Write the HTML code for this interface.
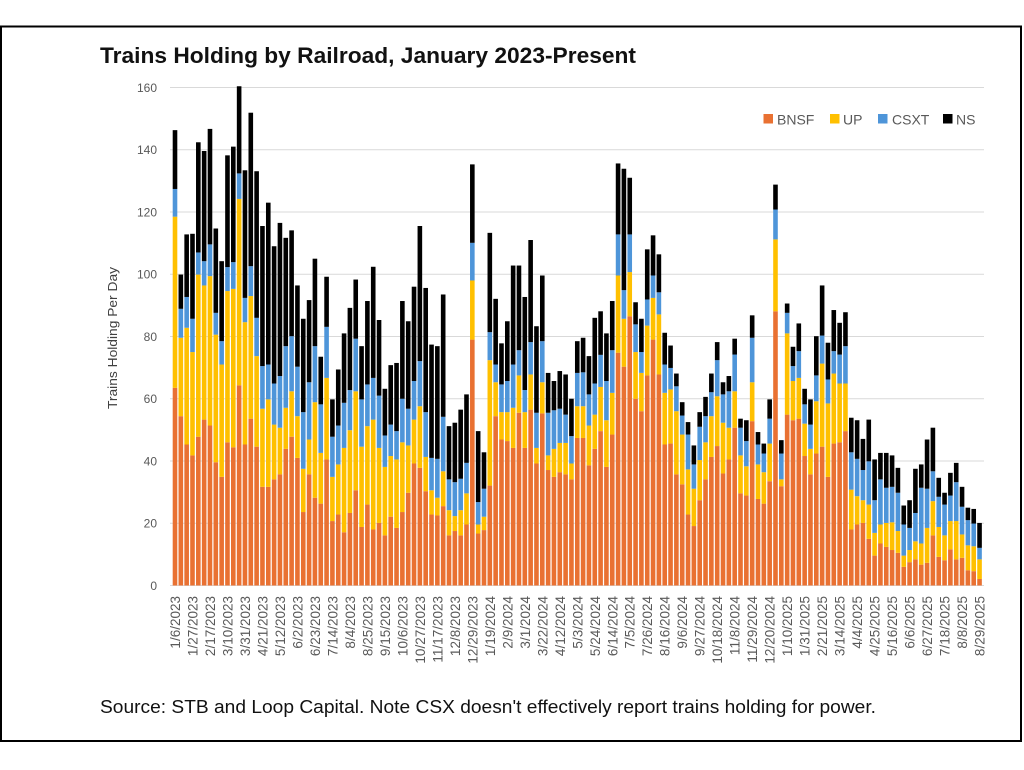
<!DOCTYPE html>
<html>
<head>
<meta charset="utf-8">
<style>
html,body{margin:0;padding:0;background:#fff;}
svg{display:block;}
.xl{font-family:"Liberation Sans",sans-serif;font-size:13.5px;fill:#595959;}
.yl{font-family:"Liberation Sans",sans-serif;font-size:12px;fill:#595959;}
.lg{font-family:"Liberation Sans",sans-serif;font-size:14px;fill:#595959;}
</style>
</head>
<body>
<svg id="chart" width="1024" height="770" viewBox="0 0 1024 770" xmlns="http://www.w3.org/2000/svg">
<rect x="0" y="0" width="1024" height="770" fill="#fff"/>
<rect x="1" y="26.5" width="1020" height="714.5" fill="none" stroke="#000" stroke-width="2"/>
<text x="100" y="63" font-family="Liberation Sans, sans-serif" font-weight="bold" font-size="22" fill="#111" textLength="536" lengthAdjust="spacingAndGlyphs">Trains Holding by Railroad, January 2023-Present</text>
<g stroke="#d9d9d9" stroke-width="1">
<line x1="170" x2="984" y1="87.5" y2="87.5"/>
<line x1="170" x2="984" y1="149.75" y2="149.75"/>
<line x1="170" x2="984" y1="212" y2="212"/>
<line x1="170" x2="984" y1="274.25" y2="274.25"/>
<line x1="170" x2="984" y1="336.5" y2="336.5"/>
<line x1="170" x2="984" y1="398.75" y2="398.75"/>
<line x1="170" x2="984" y1="461" y2="461"/>
<line x1="170" x2="984" y1="523.25" y2="523.25"/>
<line x1="170" x2="984" y1="585.5" y2="585.5"/>
</g>
<g class="yl" text-anchor="end">
<text x="157" y="92">160</text>
<text x="157" y="154">140</text>
<text x="157" y="216.5">120</text>
<text x="157" y="278.5">100</text>
<text x="157" y="341">80</text>
<text x="157" y="403">60</text>
<text x="157" y="465.5">40</text>
<text x="157" y="527.5">20</text>
<text x="157" y="590">0</text>
</g>
<text transform="translate(117,338) rotate(-90)" text-anchor="middle" font-family="Liberation Sans, sans-serif" font-size="13" fill="#404040" textLength="142" lengthAdjust="spacingAndGlyphs">Trains Holding Per Day</text>
<g id="bars"></g>
<g class="lg">
<rect x="763.5" y="114" width="9.5" height="9.5" fill="#E97132"/><text x="777" y="124.5">BNSF</text>
<rect x="830" y="114" width="9.5" height="9.5" fill="#FFC000"/><text x="843" y="124.5">UP</text>
<rect x="878" y="114" width="9.5" height="9.5" fill="#4E95D9"/><text x="892" y="124.5">CSXT</text>
<rect x="943" y="114" width="9.5" height="9.5" fill="#000"/><text x="956" y="124.5">NS</text>
</g>
<g class="xl" text-anchor="end">
<text transform="translate(180,596) rotate(-90)">1/6/2023</text>
<text transform="translate(197.5,596) rotate(-90)">1/27/2023</text>
<text transform="translate(215,596) rotate(-90)">2/17/2023</text>
<text transform="translate(232.5,596) rotate(-90)">3/10/2023</text>
<text transform="translate(250,596) rotate(-90)">3/31/2023</text>
<text transform="translate(267.4,596) rotate(-90)">4/21/2023</text>
<text transform="translate(284.9,596) rotate(-90)">5/12/2023</text>
<text transform="translate(302.4,596) rotate(-90)">6/2/2023</text>
<text transform="translate(319.9,596) rotate(-90)">6/23/2023</text>
<text transform="translate(337.4,596) rotate(-90)">7/14/2023</text>
<text transform="translate(354.9,596) rotate(-90)">8/4/2023</text>
<text transform="translate(372.4,596) rotate(-90)">8/25/2023</text>
<text transform="translate(389.9,596) rotate(-90)">9/15/2023</text>
<text transform="translate(407.4,596) rotate(-90)">10/6/2023</text>
<text transform="translate(424.9,596) rotate(-90)">10/27/2023</text>
<text transform="translate(442.4,596) rotate(-90)">11/17/2023</text>
<text transform="translate(459.8,596) rotate(-90)">12/8/2023</text>
<text transform="translate(477.3,596) rotate(-90)">12/29/2023</text>
<text transform="translate(494.8,596) rotate(-90)">1/19/2024</text>
<text transform="translate(512.3,596) rotate(-90)">2/9/2024</text>
<text transform="translate(529.8,596) rotate(-90)">3/1/2024</text>
<text transform="translate(547.3,596) rotate(-90)">3/22/2024</text>
<text transform="translate(564.8,596) rotate(-90)">4/12/2024</text>
<text transform="translate(582.3,596) rotate(-90)">5/3/2024</text>
<text transform="translate(599.8,596) rotate(-90)">5/24/2024</text>
<text transform="translate(617.3,596) rotate(-90)">6/14/2024</text>
<text transform="translate(634.7,596) rotate(-90)">7/5/2024</text>
<text transform="translate(652.2,596) rotate(-90)">7/26/2024</text>
<text transform="translate(669.7,596) rotate(-90)">8/16/2024</text>
<text transform="translate(687.2,596) rotate(-90)">9/6/2024</text>
<text transform="translate(704.7,596) rotate(-90)">9/27/2024</text>
<text transform="translate(722.2,596) rotate(-90)">10/18/2024</text>
<text transform="translate(739.7,596) rotate(-90)">11/8/2024</text>
<text transform="translate(757.2,596) rotate(-90)">11/29/2024</text>
<text transform="translate(774.7,596) rotate(-90)">12/20/2024</text>
<text transform="translate(792.2,596) rotate(-90)">1/10/2025</text>
<text transform="translate(809.6,596) rotate(-90)">1/31/2025</text>
<text transform="translate(827.1,596) rotate(-90)">2/21/2025</text>
<text transform="translate(844.6,596) rotate(-90)">3/14/2025</text>
<text transform="translate(862.1,596) rotate(-90)">4/4/2025</text>
<text transform="translate(879.6,596) rotate(-90)">4/25/2025</text>
<text transform="translate(897.1,596) rotate(-90)">5/16/2025</text>
<text transform="translate(914.6,596) rotate(-90)">6/6/2025</text>
<text transform="translate(932.1,596) rotate(-90)">6/27/2025</text>
<text transform="translate(949.6,596) rotate(-90)">7/18/2025</text>
<text transform="translate(967,596) rotate(-90)">8/8/2025</text>
<text transform="translate(984.5,596) rotate(-90)">8/29/2025</text>
</g>
<text x="100" y="713" font-family="Liberation Sans, sans-serif" font-size="18" fill="#111" textLength="776" lengthAdjust="spacingAndGlyphs">Source: STB and Loop Capital. Note CSX doesn't effectively report trains holding for power.</text>
</svg>
<script>
(function(){
var D=[[63.5,118.5,127.4,146.3],[54.4,79.6,88.9,99.9],[45.3,82.8,92.7,112.8],[41.8,75,85.7,113],[47.8,99.9,107,142.4],[53.3,96.4,104.2,139.6],[51.4,99.4,109.6,146.7],[39.6,80.6,87.6,114.7],[34.9,71,78.5,104.2],[46,94.6,102.3,138.2],
[44.4,95.3,103.9,141],[64.3,124.2,132.4,160.4],[45.3,84.6,92.4,133.4],[53.6,93,102.6,151.9],[44.6,73.7,86,133.1],[31.7,56.8,70.5,115.5],[31.7,59.8,71,123],[34.1,51.7,64.9,109],[35.7,50.7,67.3,116.5],[43.9,57.1,76.9,111.7],
[47.8,62.4,80.1,114.1],[41,54.4,70.3,96.4],[23.6,37.5,55.7,85.7],[35.7,46.9,65.3,91.7],[28.2,58.9,76.9,105],[26.3,42.6,58.2,73.5],[40.5,66.7,83.1,99.2],[20.7,34.9,47.8,59.8],[22.8,38.9,51.4,69.4],[17.1,44.2,58.7,81],
[23.3,49.9,62.8,89.2],[30.6,62.4,79.3,98.3],[18.8,44.6,59.8,76.9],[26,51.2,64.6,91.4],[18,53.3,66.7,102.4],[20.1,44.2,61,85.3],[16.1,38.1,48.2,63.2],[22.1,41.6,51.7,70.8],[18.5,40.5,49.6,71.5],[23.6,46,60,91.4],
[29.8,45,56.8,84.9],[39.2,53.3,65.7,96],[37.8,57.6,72.1,115.5],[30.3,41.3,55.7,95.6],[22.8,30.6,41,77.4],[22.5,28.2,40.7,76.9],[25.5,36.7,54.2,93.5],[16.1,24.2,34.1,51.2],[17.5,22.3,33.2,52.3],[16.1,24.2,34.3,56.5],
[19.6,29.6,39.4,61.4],[79,98,110.1,135.3],[16.7,19.6,26.8,49.6],[17.8,22.1,31.1,42.8],[32.1,72.4,81.4,113.3],[54.4,65.3,71,92.1],[46.9,55.7,64.6,77.8],[46.4,55.7,65.7,84.9],[44.2,57.1,71,102.8],[55.5,67.5,75.6,102.8],
[44.2,55.7,62.8,92.7],[56.5,67.8,78.2,111],[39.2,44.2,55.5,83.3],[55.3,65.3,78.5,99.6],[37.1,41.8,55.5,68.3],[34.9,43.9,56.3,65.7],[36.4,45.8,56.8,68.9],[35.7,45.8,54.9,67.8],[34.1,39.2,48,60],[47.4,57.6,68.3,78.5],
[47.4,57.6,68.5,79.6],[38.6,51.4,61.4,73.7],[43.9,54.9,64.9,86],[49.6,63.8,74.1,88.1],[38.1,53.1,65.7,81],[48.5,61.9,75.6,91.4],[74.8,99.6,112.8,135.6],[70.3,85.7,94.9,133.9],[86.5,100.7,112.8,131],[60,75,83.9,91],
[56,68.3,75,85.7],[67.5,83.5,91.9,108],[79,92.4,99.6,112.5],[67.8,87.1,94.2,106.4],[45.3,61.9,71,81.2],[45.6,63,69.9,77.1],[35.7,56,64,68.1],[32.5,48.5,54.6,58.9],[22.8,37.3,48.5,52.5],[19.1,31.1,38.9,45],
[27.4,40.3,51,55.7],[34.1,46,54.4,60.6],[41.3,54.4,62.1,68.1],[44.8,60.8,72.4,78.2],[36,52.3,61.4,65.3],[40.5,50.7,62.4,67.3],[50.7,62.4,74.2,79.3],[29.6,41.8,50.7,53.6],[28.9,38.3,46.4,53.1],[52.8,65.3,79.6,86.8],
[27.8,38.9,45.3,49.3],[26.3,36.4,42.4,45.6],[33.5,45.6,53.6,59.8],[88.1,111.2,120.8,128.8],[31.9,34.1,42.4,46.7],[54.9,81,87.6,90.6],[53.1,65.7,70.5,76.7],[53.6,66.7,75.3,84.2],[41.6,52,58.2,63.2],[35.7,43.9,51.7,59.8],
[42.4,59.2,67.5,80.1],[44.6,71.3,80.3,96.4],[34.9,58.5,66.2,78],[45.6,68.1,75.3,88.5],[46,64.9,74.2,84.4],[49.6,64.9,76.9,87.8],[18,30.8,42.8,53.9],[19.6,28.7,40.7,53.1],[20.1,27.4,37.1,47.1],[15,26,39.9,53.3],
[9.6,16.9,27.4,40.5],[13.5,19.6,34.1,42.6],[12.4,20.1,31.4,42.6],[11.4,20.3,31.7,41.8],[10.5,17.5,29.8,37.8],[6,9.6,19.6,25.7],[7.5,11.4,18.5,27.4],[8.4,14.2,23.3,37.5],[6.7,13.5,31.4,38.9],[7.3,18.5,31.1,46.9],
[16.1,27.1,36.7,50.7],[9.2,18.8,28.5,34.6],[8.1,16.1,26,29.8],[11.6,20.7,28.9,36.2],[8.4,20.7,33.2,39.4],[8.9,16.4,25.3,31.7],[4.9,12.9,21,25],[4.6,12.6,19.9,24.6],[2.1,8.4,12.1,20.1]];
var cols=['#E97132','#FFC000','#4E95D9','#000000'];
var NS='http://www.w3.org/2000/svg';
var g=document.getElementById('bars');
function Y(v){return 585.5-v*3.1125;}
for(var k=0;k<D.length;k++){
  var x=175+5.83*k-2.3, prev=0;
  for(var s=0;s<4;s++){
    var v=D[k][s]; if(v<prev) v=prev;
    var y1=Y(v), y0=Y(prev);
    if(y0-y1>0.05){
      var r=document.createElementNS(NS,'rect');
      r.setAttribute('x',x.toFixed(2));
      r.setAttribute('y',y1.toFixed(2));
      r.setAttribute('width','4.6');
      r.setAttribute('height',(y0-y1).toFixed(2));
      r.setAttribute('fill',cols[s]);
      g.appendChild(r);
    }
    prev=v;
  }
}
})();
</script>
</body>
</html>
